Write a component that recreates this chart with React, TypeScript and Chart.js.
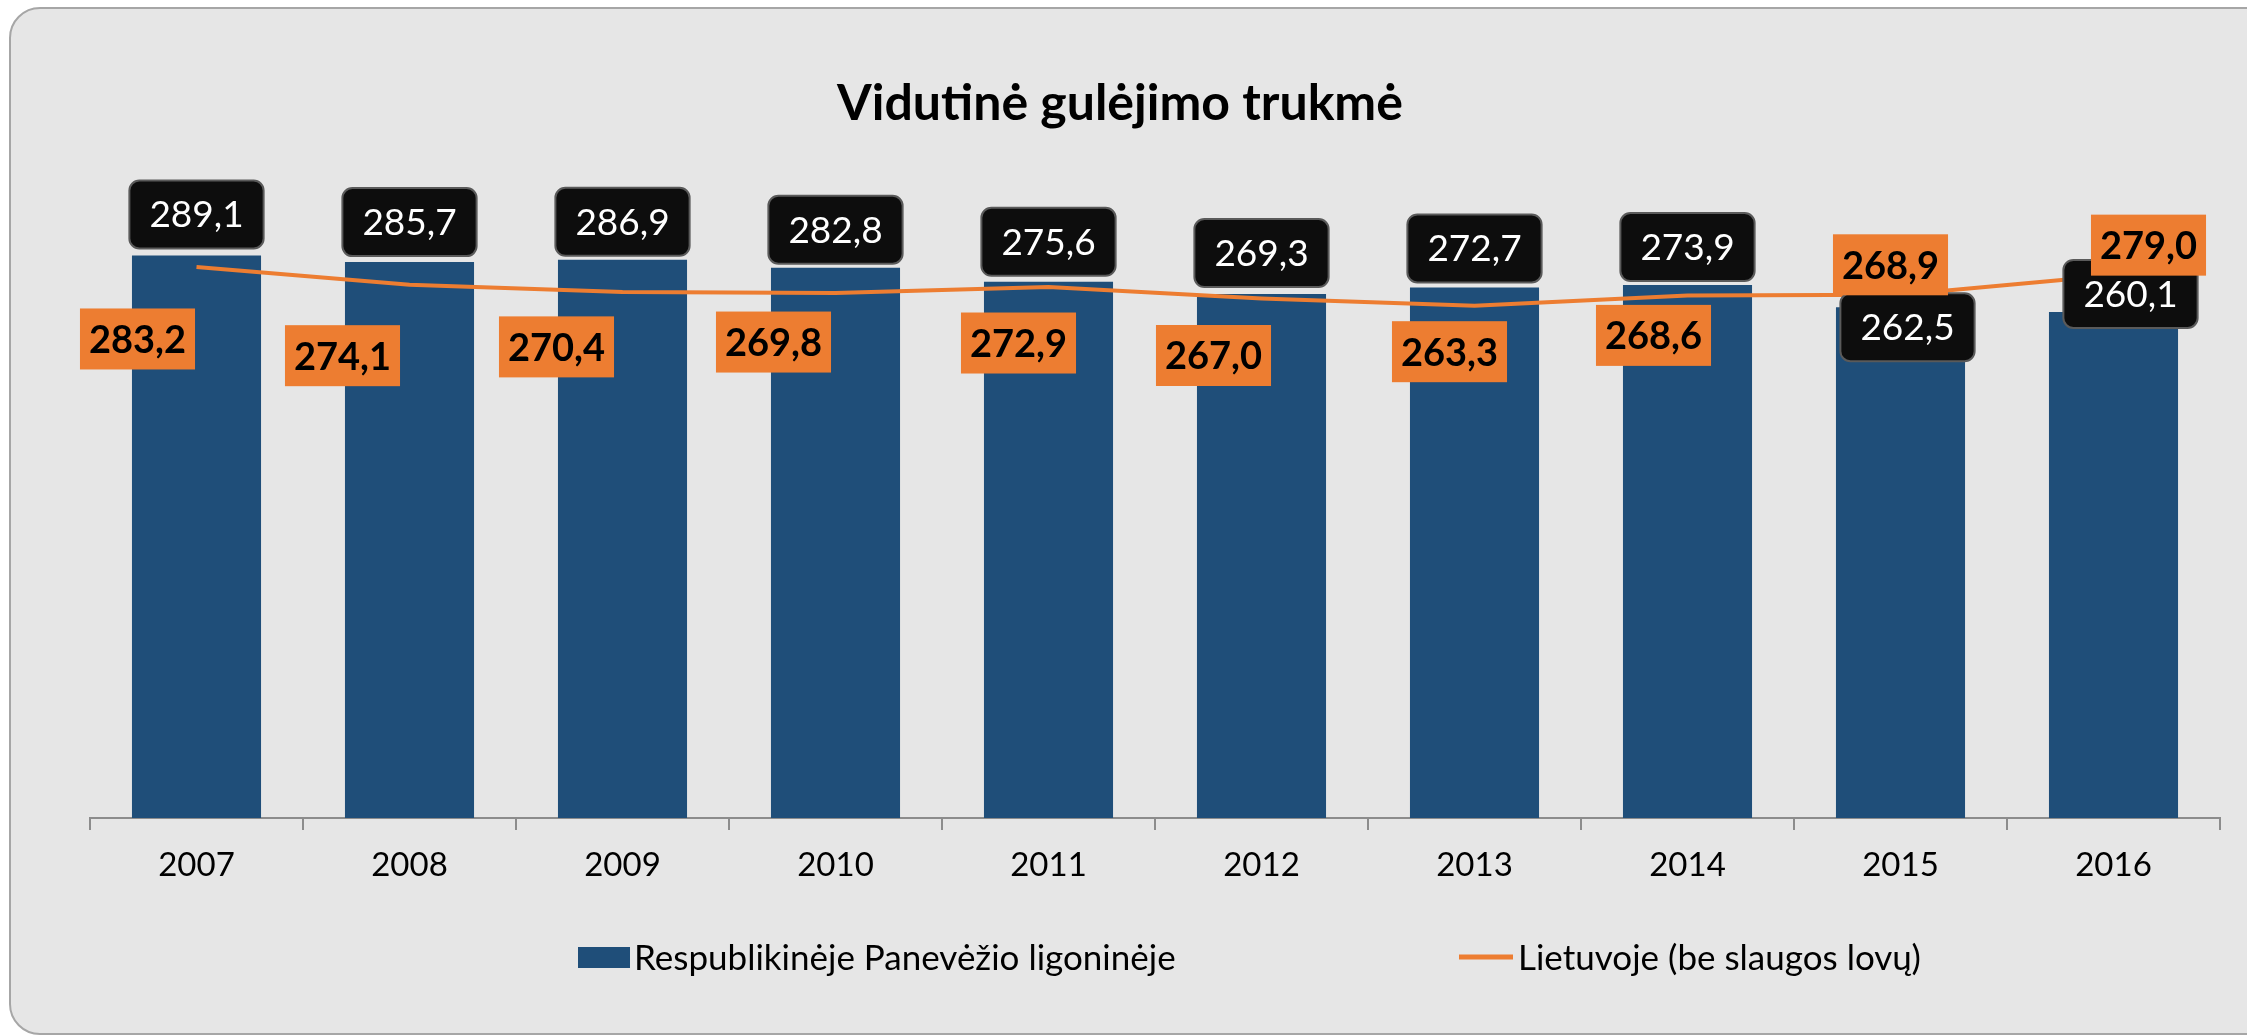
import React, { useEffect, useRef } from "react";
import { Chart, registerables } from "chart.js";

Chart.register(...registerables);

// ---- data ----
const years = ["2007", "2008", "2009", "2010", "2011", "2012", "2013", "2014", "2015", "2016"];
const hospitalValues = [289.1, 285.7, 286.9, 282.8, 275.6, 269.3, 272.7, 273.9, 262.5, 260.1];
const lithuaniaValues = [283.2, 274.1, 270.4, 269.8, 272.9, 267.0, 263.3, 268.6, 268.9, 279.0];
const seriesNames = ["Respublikinėje Panevėžio ligoninėje", "Lietuvoje (be slaugos lovų)"];
const chartTitle = "Vidutinė gulėjimo trukmė";
const yMin = 0;
const yMax = 350;

// ---- label placement (layout, px offsets from the mark) ----
const barLabelOffsets: [number, number][] = [
  [0, -41], [0, -40], [0, -38], [0, -38], [0, -40], [0, -41], [0, -39], [0, -38], [7, 20], [17, -18],
];
const lineLabelOffsets: [number, number][] = [
  [-59, 72], [-67, 71], [-66, 55], [-62, 49], [-30, 56], [-48, 57], [-25, 46], [-34, 40], [-10, -30], [35, -30],
];

// ---- styles ----
const FONT = "Lato, 'Open Sans', sans-serif";
const BAR_COLOR = "#1F4E79";
const LINE_COLOR = "#ED7D31";
const BG = "#E6E6E6";

function fmt(v: number) {
  return v.toFixed(1).replace(".", ",");
}

function roundRectPath(ctx: CanvasRenderingContext2D, x: number, y: number, w: number, h: number, r: number) {
  ctx.beginPath();
  ctx.moveTo(x + r, y);
  ctx.arcTo(x + w, y, x + w, y + h, r);
  ctx.arcTo(x + w, y + h, x, y + h, r);
  ctx.arcTo(x, y + h, x, y, r);
  ctx.arcTo(x, y, x + w, y, r);
  ctx.closePath();
}

function drawMidText(ctx: CanvasRenderingContext2D, text: string, cx: number, cy: number) {
  const capH = ctx.measureText("0").actualBoundingBoxAscent;
  ctx.textAlign = "center";
  ctx.textBaseline = "alphabetic";
  ctx.fillText(text, cx, cy + capH / 2);
}

const backgroundPlugin = {
  id: "panelBackground",
  beforeDraw(chart: any) {
    const ctx: CanvasRenderingContext2D = chart.ctx;
    ctx.save();
    roundRectPath(ctx, 10, 8, 2268, 1026, 30);
    ctx.fillStyle = BG;
    ctx.fill();
    ctx.lineWidth = 2;
    ctx.strokeStyle = "#A6A6A6";
    ctx.stroke();
    ctx.restore();
  },
};

const decorPlugin = {
  id: "decor",
  afterDatasetsDraw(chart: any) {
    const ctx: CanvasRenderingContext2D = chart.ctx;
    ctx.save();

    // title
    ctx.fillStyle = "#000";
    ctx.font = `bold 50px ${FONT}`;
    ctx.textAlign = "center";
    ctx.textBaseline = "alphabetic";
    ctx.fillText(chartTitle, 1120, 120);

    // bar labels (black boxes)
    const barMeta = chart.getDatasetMeta(0);
    ctx.font = `37px ${FONT}`;
    barMeta.data.forEach((el: any, i: number) => {
      const text = fmt(hospitalValues[i]);
      const [dx, dy] = barLabelOffsets[i];
      const cx = el.x + dx;
      const cy = el.y + dy;
      const w = ctx.measureText(text).width + 40;
      const h = 68;
      roundRectPath(ctx, cx - w / 2, cy - h / 2, w, h, 10);
      ctx.fillStyle = "#0D0D0D";
      ctx.fill();
      ctx.lineWidth = 2;
      ctx.strokeStyle = "#5A5A5A";
      ctx.stroke();
      ctx.fillStyle = "#FFFFFF";
      drawMidText(ctx, text, cx, cy);
    });

    // line labels (orange boxes)
    const lineMeta = chart.getDatasetMeta(1);
    ctx.font = `bold 38px ${FONT}`;
    lineMeta.data.forEach((el: any, i: number) => {
      const text = fmt(lithuaniaValues[i]);
      const [dx, dy] = lineLabelOffsets[i];
      const cx = el.x + dx;
      const cy = el.y + dy;
      const w = ctx.measureText(text).width + 18;
      const h = 61;
      ctx.fillStyle = LINE_COLOR;
      ctx.fillRect(cx - w / 2, cy - h / 2, w, h);
      ctx.fillStyle = "#000";
      drawMidText(ctx, text, cx, cy);
    });

    // legend
    const ly = 957;
    ctx.fillStyle = BAR_COLOR;
    ctx.fillRect(578, 947, 52, 21);
    ctx.strokeStyle = LINE_COLOR;
    ctx.lineWidth = 5;
    ctx.beginPath();
    ctx.moveTo(1459, ly);
    ctx.lineTo(1513, ly);
    ctx.stroke();
    ctx.font = `35px ${FONT}`;
    ctx.fillStyle = "#000";
    ctx.textAlign = "left";
    const capH = ctx.measureText("R").actualBoundingBoxAscent;
    ctx.textBaseline = "alphabetic";
    ctx.fillText(seriesNames[0], 634, ly + capH / 2);
    ctx.fillText(seriesNames[1], 1518, ly + capH / 2);

    ctx.restore();
  },
};

export default function App() {
  const canvasRef = useRef<HTMLCanvasElement | null>(null);

  useEffect(() => {
    const canvas = canvasRef.current;
    if (!canvas) return;
    const chart = new Chart(canvas, {
      type: "bar",
      data: {
        labels: years,
        datasets: [
          {
            type: "bar",
            label: seriesNames[0],
            data: hospitalValues,
            backgroundColor: BAR_COLOR,
            borderWidth: 0,
            barPercentage: 0.606,
            categoryPercentage: 1,
            order: 1,
          },
          {
            type: "line",
            label: seriesNames[1],
            data: lithuaniaValues,
            borderColor: LINE_COLOR,
            backgroundColor: LINE_COLOR,
            borderWidth: 4,
            pointRadius: 0,
            tension: 0,
            order: 0,
          },
        ],
      } as any,
      options: {
        responsive: false,
        devicePixelRatio: 1,
        animation: false,
        layout: { padding: { left: 90, right: 27, top: 137, bottom: 0 } },
        plugins: {
          legend: { display: false },
          title: { display: false },
          tooltip: { enabled: false },
        },
        scales: {
          y: { display: false, min: yMin, max: yMax },
          x: {
            grid: {
              offset: true,
              drawOnChartArea: false,
              drawTicks: true,
              tickLength: 12,
              color: "#8C8C8C",
              lineWidth: 2,
            },
            border: { display: true, color: "#8C8C8C", width: 2 },
            ticks: {
              color: "#000",
              padding: 16,
              font: { family: FONT, size: 33 },
            },
            afterFit: (scale: any) => {
              scale.height = 218;
            },
          },
        },
      } as any,
      plugins: [backgroundPlugin, decorPlugin],
    });
    return () => chart.destroy();
  }, []);

  return (
    <div style={{ position: "fixed", left: 0, top: 0, width: 2247, height: 1036, overflow: "hidden", background: "#fff" }}>
      <canvas ref={canvasRef} width={2247} height={1036} style={{ width: 2247, height: 1036, display: "block" }} />
    </div>
  );
}
